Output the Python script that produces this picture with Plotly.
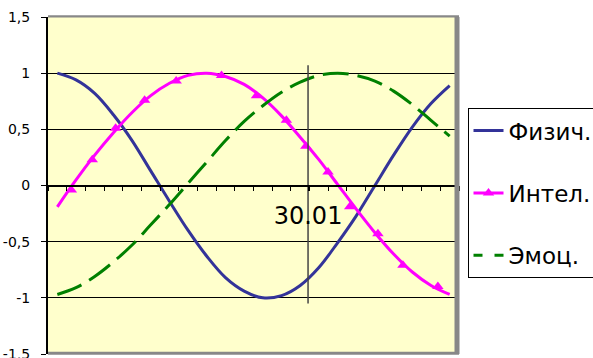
import plotly.graph_objects as go

# ---- data ----
days = list(range(22))  # category index (one per day)

phys = [1.00, 0.94, 0.82, 0.63, 0.40, 0.13, -0.14, -0.40, -0.63, -0.82, -0.94,
        -1.00, -0.98, -0.89, -0.73, -0.51, -0.27, 0.00, 0.27, 0.52, 0.73, 0.89]
intel = [-0.19, 0.05, 0.27, 0.47, 0.65, 0.80, 0.91, 0.98, 1.00, 0.97, 0.90,
         0.78, 0.62, 0.43, 0.23, 0.01, -0.21, -0.42, -0.61, -0.77, -0.89, -0.97]
emot = [-0.97, -0.91, -0.81, -0.68, -0.53, -0.35, -0.17, 0.02, 0.21, 0.40, 0.57,
        0.71, 0.83, 0.92, 0.98, 1.00, 0.98, 0.93, 0.84, 0.72, 0.58, 0.44]

intel_marker_x = [0.75, 1.87, 3.12, 4.67, 6.36, 8.79, 10.66, 12.26, 13.30,
                  14.49, 15.65, 17.16, 18.50, 20.37]
intel_marker_y = [-0.04, 0.23, 0.51, 0.76, 0.93, 0.98, 0.80, 0.58, 0.35,
                  0.12, -0.19, -0.43, -0.71, -0.90]

series_names = ["Физич.", "Интел.", "Эмоц."]
today_x = 13.42
today_label = "30.01"
today_span = [1.07, -1.05]

y_tick_vals = [-1.5, -1, -0.5, 0, 0.5, 1, 1.5]
y_tick_text = ["-1,5", "-1", "-0,5", "0", "0,5", "1", "1,5"]

FONT = "DejaVu Sans, Arial, sans-serif"
BLUE = "#333399"
PINK = "#FF00FF"
GREEN = "#008000"
GRAY = "#888888"

fig = go.Figure()

fig.add_trace(go.Scatter(
    x=days, y=phys, name=series_names[0], mode="lines",
    line=dict(color=BLUE, width=3, shape="spline"),
    legendgroup="g1", legendrank=1))

fig.add_trace(go.Scatter(
    x=days, y=intel, name=series_names[1], mode="lines",
    line=dict(color=PINK, width=3, shape="spline"),
    legendgroup="g2", showlegend=False))
fig.add_trace(go.Scatter(
    x=intel_marker_x, y=intel_marker_y, name=series_names[1], mode="markers",
    marker=dict(symbol="triangle-up", size=10, color=PINK),
    legendgroup="g2", showlegend=False))
fig.add_trace(go.Scatter(
    x=[None], y=[None], name=series_names[1], mode="lines+markers",
    line=dict(color=PINK, width=3),
    marker=dict(symbol="triangle-up", size=10, color=PINK),
    legendgroup="g2", legendrank=2))

fig.add_trace(go.Scatter(
    x=days, y=emot, name=series_names[2], mode="lines",
    line=dict(color=GREEN, width=3, shape="spline", dash="26px,9px"),
    legendgroup="g3", showlegend=False))
fig.add_trace(go.Scatter(
    x=[None], y=[None], name=series_names[2], mode="lines",
    line=dict(color=GREEN, width=3, dash="9px,12px"),
    legendgroup="g3", legendrank=3))

# "today" marker line
fig.add_trace(go.Scatter(
    x=[today_x, today_x], y=today_span, mode="lines",
    line=dict(color="#444444", width=1.5), showlegend=False, hoverinfo="skip"))

fig.update_layout(
    width=593, height=358,
    margin=dict(l=48, r=133.5, t=16.5, b=3.75, autoexpand=False),
    paper_bgcolor="white", plot_bgcolor="#FFFFCC",
    font=dict(family=FONT, color="#000000"),
    showlegend=True,
    legend=dict(
        x=1.0207, y=0.7296, xanchor="left", yanchor="top",
        bgcolor="white", bordercolor="#000000", borderwidth=1,
        font=dict(family=FONT, size=23, color="#000000"),
        tracegroupgap=29.5, itemwidth=30),
    xaxis=dict(
        range=[-0.5, 21.5], anchor="free", position=0.5,
        showline=True, linecolor="#000000", linewidth=1.5,
        showgrid=False, zeroline=False,
        tickmode="array", tickvals=[today_x], ticktext=[today_label],
        ticks="outside", ticklen=5, tickcolor="#000000",
        ticklabelstandoff=4,
        tickfont=dict(family=FONT, size=24, color="#000000"),
        minor=dict(ticks="outside", tick0=0.5, dtick=1, ticklen=5,
                   tickcolor="#000000", showgrid=False)),
    yaxis=dict(
        range=[-1.5, 1.5], tickmode="array", tickvals=y_tick_vals,
        ticktext=y_tick_text, showgrid=True, gridcolor="#000000", gridwidth=1,
        zeroline=False, showline=True, linecolor="#000000", linewidth=2,
        ticks="outside", ticklen=5, tickcolor="#000000", ticklabelstandoff=8,
        ticklabeloverflow="allow",
        tickfont=dict(family=FONT, size=14, color="#000000")),
)

# plot-area frame (gray top/right/bottom)
fig.add_shape(type="rect", xref="paper", yref="paper", layer="above",
              xsizemode="pixel", xanchor=1, x0=-4.5, x1=0.5, y0=0, y1=1,
              fillcolor=GRAY, line=dict(width=0))
fig.add_shape(type="rect", xref="paper", yref="paper", layer="above",
              ysizemode="pixel", yanchor=0, y0=-0.75, y1=2.25, x0=0, x1=1,
              fillcolor=GRAY, line=dict(width=0))
fig.add_shape(type="rect", xref="paper", yref="paper", layer="above",
              ysizemode="pixel", yanchor=1, y0=-0.5, y1=1.75, x0=0, x1=1,
              fillcolor=GRAY, line=dict(width=0))

fig.write_html("out.html",
               config={"displayModeBar": False},
               post_script="document.body.style.margin='0px';"
                           "document.body.style.overflow='hidden';")
